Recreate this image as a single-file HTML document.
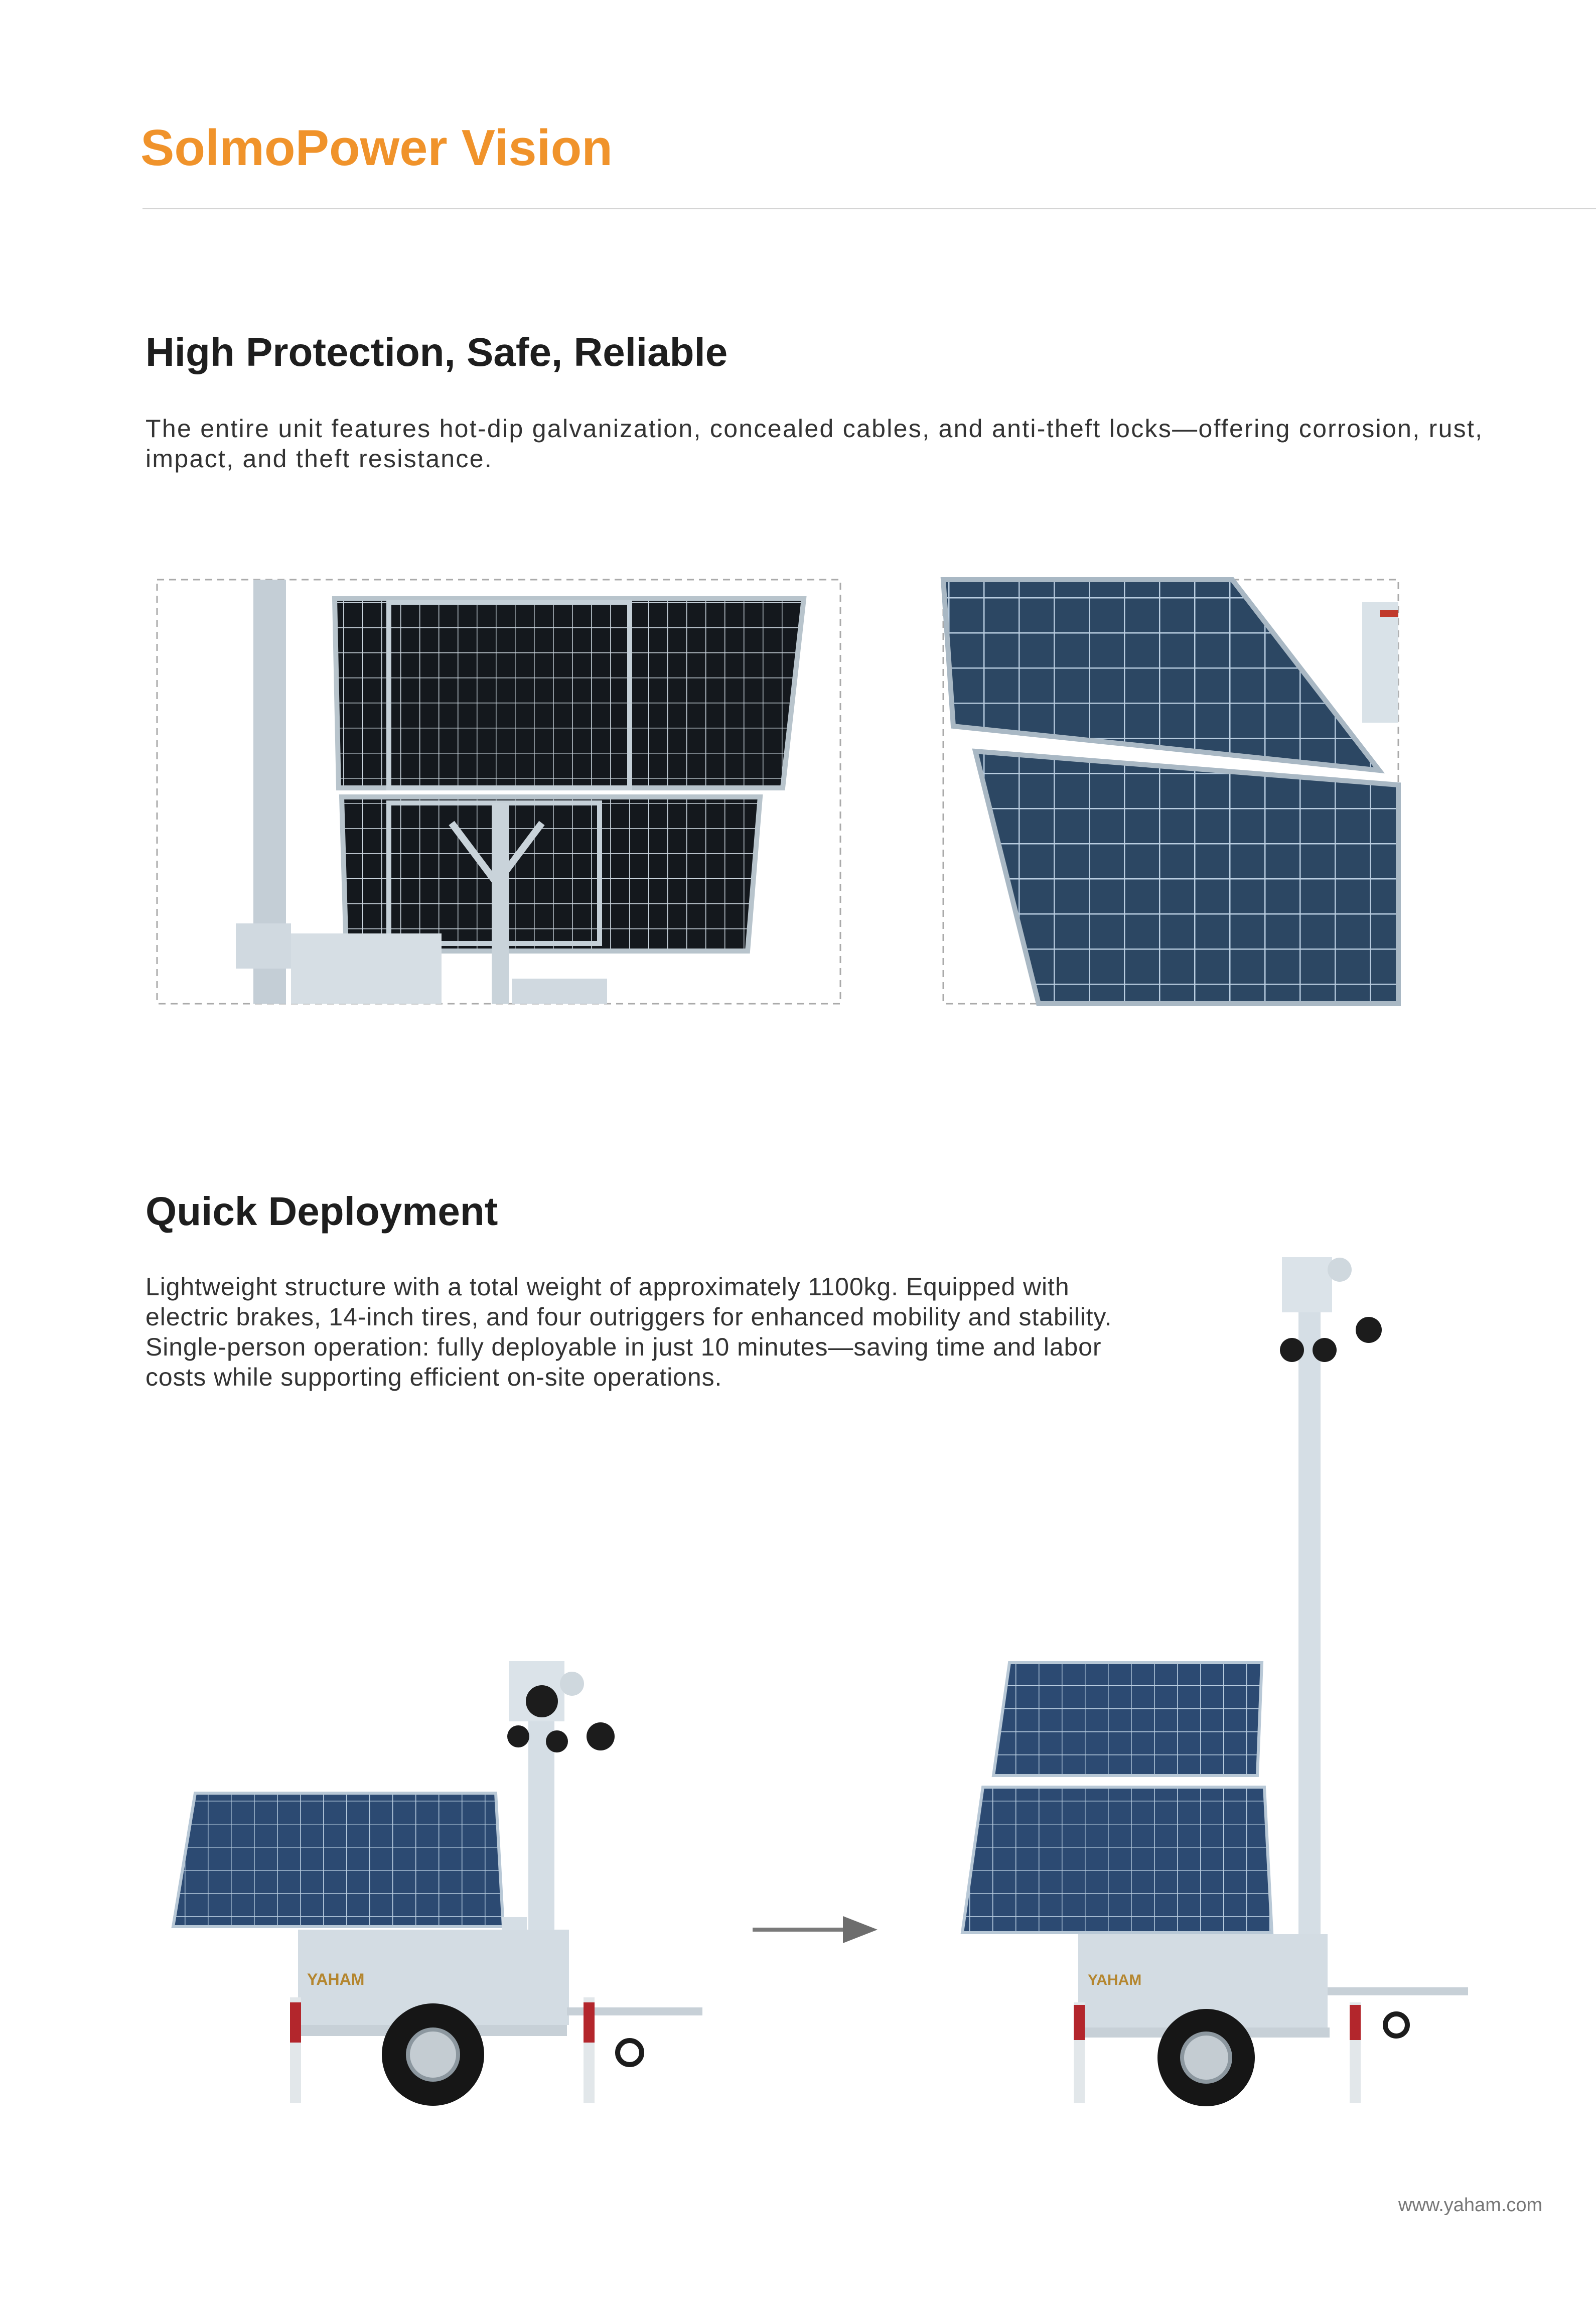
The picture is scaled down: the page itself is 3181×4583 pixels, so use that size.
<!DOCTYPE html>
<html><head><meta charset="utf-8"><style>
html,body{margin:0;padding:0;background:#fff;}
body{width:3181px;height:4583px;position:relative;overflow:hidden;font-family:"Liberation Sans",sans-serif;}
.t{position:absolute;white-space:nowrap;}
</style></head><body>
<div class="t" style="left:280px;top:238px;font-size:101px;font-weight:bold;color:#f0932b;">SolmoPower Vision</div>
<div style="position:absolute;left:284px;top:414px;width:2897px;height:3px;background:#d4d4d4;"></div>
<div class="t" style="left:290px;top:656px;font-size:80px;font-weight:bold;color:#1e1e1e;">High Protection, Safe, Reliable</div>
<div class="t" style="left:290px;top:824px;font-size:50px;line-height:60px;color:#333;letter-spacing:2.3px;">The entire unit features hot-dip galvanization, concealed cables, and anti-theft locks—offering corrosion, rust,<br>impact, and theft resistance.</div>
<div class="t" style="left:290px;top:2368px;font-size:80px;font-weight:bold;color:#1e1e1e;">Quick Deployment</div>
<div class="t" style="left:290px;top:2534px;font-size:50px;line-height:60px;color:#333;letter-spacing:0.9px;">Lightweight structure with a total weight of approximately 1100kg. Equipped with<br>electric brakes, 14-inch tires, and four outriggers for enhanced mobility and stability.<br>Single-person operation: fully deployable in just 10 minutes—saving time and labor<br>costs while supporting efficient on-site operations.</div>
<div class="t" style="left:2787px;top:4373px;font-size:38px;color:#777;">www.yaham.com</div>

<svg width="3181" height="4583" style="position:absolute;left:0;top:0;" xmlns="http://www.w3.org/2000/svg">
<defs>
<pattern id="dk" width="38" height="50" patternUnits="userSpaceOnUse"><rect width="38" height="50" fill="#14181d"/><path d="M0 0H38M0 0V50" stroke="#c9d3dc" stroke-width="3"/></pattern>
<pattern id="bl" width="70" height="70" patternUnits="userSpaceOnUse"><rect width="70" height="70" fill="#2c4763"/><path d="M0 0H70M0 0V70" stroke="#b9cde0" stroke-width="5"/></pattern>
<pattern id="bs" width="46" height="46" patternUnits="userSpaceOnUse"><rect width="46" height="46" fill="#2c4a72"/><path d="M0 0H46M0 0V46" stroke="#b9cde0" stroke-width="3"/></pattern>
</defs>
<rect x="313" y="1155" width="1362" height="845" fill="none" stroke="#aaa" stroke-width="3" stroke-dasharray="14 10"/>
<rect x="1880" y="1155" width="907" height="845" fill="none" stroke="#aaa" stroke-width="3" stroke-dasharray="14 10"/>
<polygon points="667,1193 1602,1193 1560,1570 675,1570" fill="url(#dk)" stroke="#b8c4cc" stroke-width="10"/>
<polygon points="681,1588 1515,1588 1490,1895 690,1895" fill="url(#dk)" stroke="#b8c4cc" stroke-width="10"/>
<rect x="775" y="1200" width="480" height="370" fill="none" stroke="#c5d0d8" stroke-width="10"/>
<rect x="775" y="1600" width="420" height="280" fill="none" stroke="#c5d0d8" stroke-width="10"/>
<rect x="980" y="1600" width="35" height="400" fill="#c9d3da"/>
<path d="M900 1640 L990 1760 L1080 1640" stroke="#c9d3da" stroke-width="14" fill="none"/>
<rect x="505" y="1155" width="65" height="845" fill="#c4ced6"/>
<rect x="470" y="1840" width="110" height="90" fill="#d0d9e0"/>
<rect x="580" y="1860" width="300" height="140" fill="#d6dee4"/>
<rect x="1020" y="1950" width="190" height="50" fill="#d0d9e0"/>
<polygon points="1880,1155 2456,1155 2749,1535 1900,1447" fill="url(#bl)" stroke="#a9b8c4" stroke-width="10"/>
<polygon points="1944,1497 2787,1564 2787,2000 2070,2000" fill="url(#bl)" stroke="#a9b8c4" stroke-width="10"/>
<rect x="2715" y="1200" width="72" height="240" fill="#d9e2e8"/>
<rect x="2750" y="1215" width="37" height="14" fill="#c0392b"/>
<line x1="1500" y1="3845" x2="1690" y2="3845" stroke="#7a7a7a" stroke-width="8"/>
<polygon points="1680,3818 1749,3845 1680,3872" fill="#6d6d6d"/>

<g>
<rect x="1053" y="3400" width="52" height="489" fill="#d5dee5"/>
<rect x="1015" y="3310" width="110" height="120" fill="#dbe3e9"/>
<circle cx="1080" cy="3390" r="32" fill="#1c1c1c"/><circle cx="1033" cy="3460" r="22" fill="#1c1c1c"/><circle cx="1110" cy="3470" r="22" fill="#1c1c1c"/><circle cx="1197" cy="3460" r="28" fill="#1c1c1c"/>
<circle cx="1140" cy="3355" r="24" fill="#cfd8de"/>
<polygon points="389,3573 988,3573 1003,3839 345,3839" fill="url(#bs)" stroke="#b8c8d6" stroke-width="6"/>
<rect x="1000" y="3820" width="50" height="80" fill="#d5dee5"/>
<rect x="594" y="3845" width="540" height="190" fill="#d3dce3"/>
<text x="612" y="3955" font-family="Liberation Sans,sans-serif" font-size="32" font-weight="bold" fill="#b4862f">YAHAM</text>
<rect x="600" y="4035" width="530" height="22" fill="#c7d0d7"/>
<rect x="1130" y="4000" width="270" height="16" fill="#c7d0d7"/>
<rect x="578" y="3980" width="22" height="210" fill="#e2e7ea"/><rect x="578" y="3990" width="22" height="80" fill="#b3262c"/>
<rect x="1163" y="3980" width="22" height="210" fill="#e2e7ea"/><rect x="1163" y="3990" width="22" height="80" fill="#b3262c"/>
<circle cx="863" cy="4094" r="102" fill="#161616"/><circle cx="863" cy="4094" r="50" fill="#c4ccd2" stroke="#8c979f" stroke-width="8"/>
<circle cx="1255" cy="4090" r="24" fill="none" stroke="#1c1c1c" stroke-width="10"/>
</g>
<g>
<rect x="2588" y="2600" width="44" height="1289" fill="#d5dee5"/>
<rect x="2555" y="2505" width="100" height="110" fill="#dbe3e9"/>
<circle cx="2575" cy="2690" r="24" fill="#1c1c1c"/><circle cx="2640" cy="2690" r="24" fill="#1c1c1c"/><circle cx="2728" cy="2650" r="26" fill="#1c1c1c"/>
<circle cx="2670" cy="2530" r="24" fill="#cfd8de"/>
<polygon points="2012,3313 2515,3313 2506,3538 1980,3538" fill="url(#bs)" stroke="#b8c8d6" stroke-width="6"/>
<polygon points="1959,3561 2520,3561 2535,3851 1918,3851" fill="url(#bs)" stroke="#b8c8d6" stroke-width="6"/>
<rect x="2149" y="3854" width="497" height="196" fill="#d3dce3"/>
<text x="2168" y="3955" font-family="Liberation Sans,sans-serif" font-size="30" font-weight="bold" fill="#b4862f">YAHAM</text>
<rect x="2150" y="4040" width="500" height="20" fill="#c7d0d7"/>
<rect x="2646" y="3960" width="280" height="16" fill="#c7d0d7"/>
<rect x="2140" y="3990" width="22" height="200" fill="#e2e7ea"/><rect x="2140" y="3995" width="22" height="70" fill="#b3262c"/>
<rect x="2690" y="3990" width="22" height="200" fill="#e2e7ea"/><rect x="2690" y="3995" width="22" height="70" fill="#b3262c"/>
<circle cx="2404" cy="4100" r="97" fill="#161616"/><circle cx="2404" cy="4100" r="48" fill="#c4ccd2" stroke="#8c979f" stroke-width="8"/>
<circle cx="2783" cy="4035" r="22" fill="none" stroke="#1c1c1c" stroke-width="10"/>
</g>
</svg>
</body></html>
